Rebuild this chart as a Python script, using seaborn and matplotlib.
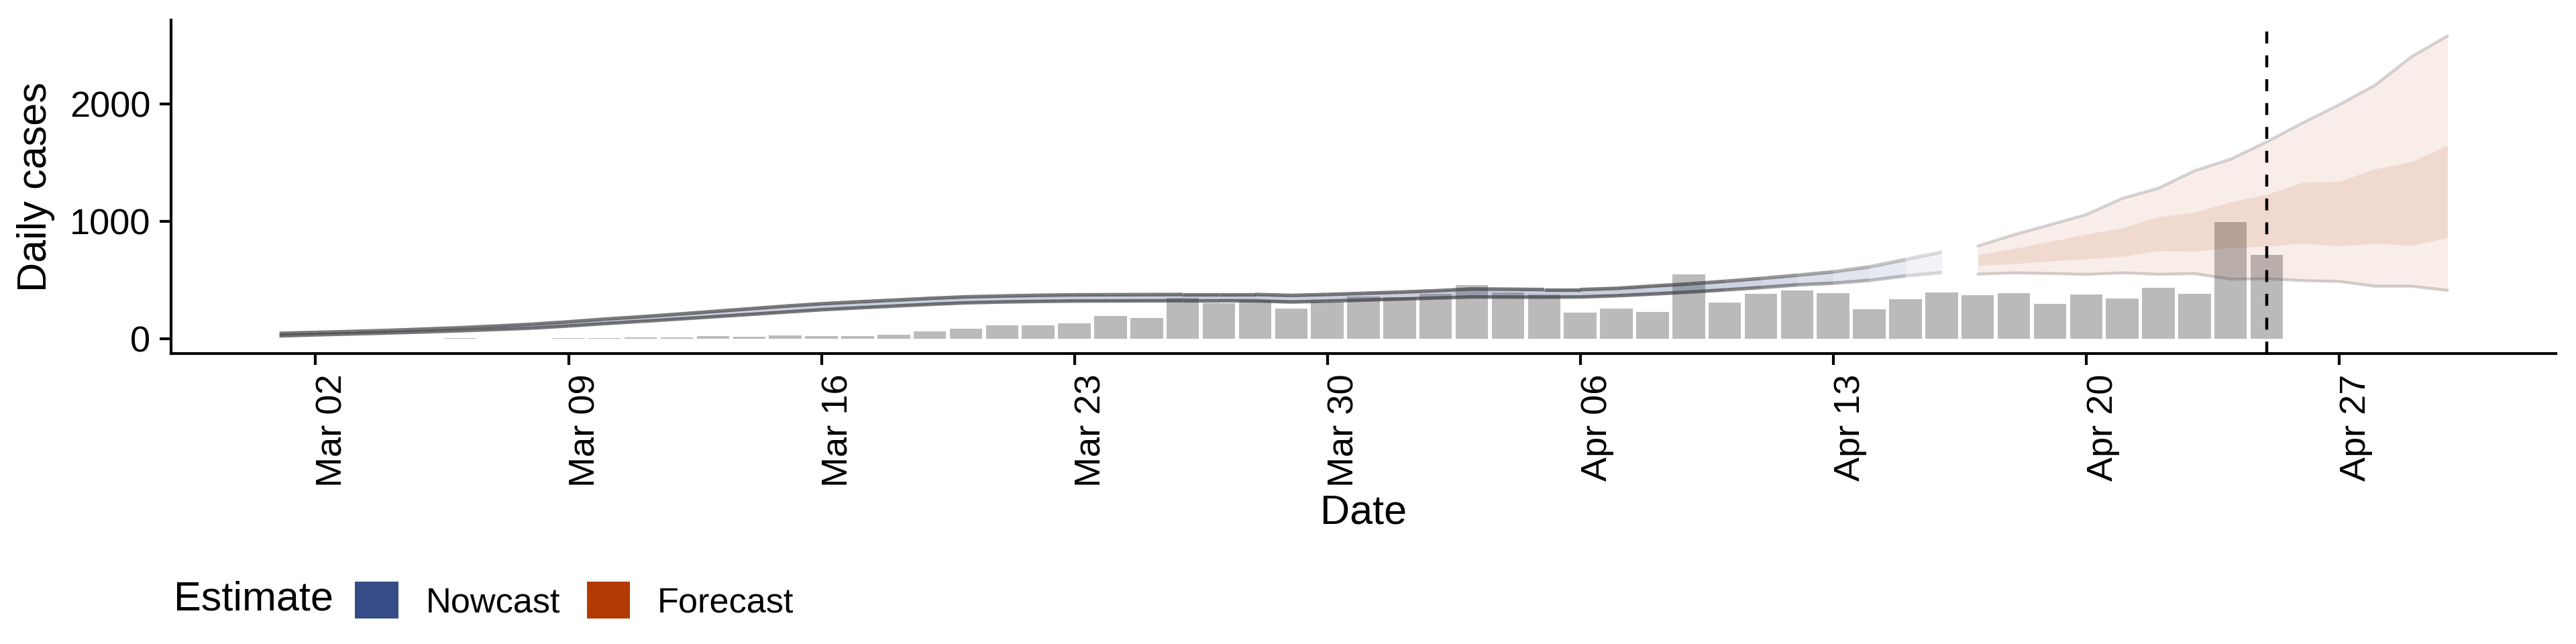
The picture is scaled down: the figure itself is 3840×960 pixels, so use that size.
import pandas as pd
import matplotlib
matplotlib.use("Agg")
import matplotlib.pyplot as plt
import matplotlib.dates as mdates
from matplotlib.patches import Patch
from matplotlib.collections import LineCollection
import seaborn as sns

# ---- data ----
case_dates = pd.date_range("2020-03-01", "2020-04-25")
cases = [0, 0, 0, 0, 0, 3, 0, 0, 3, 3, 11, 11, 23, 17, 30, 21, 21, 32, 61, 84,
         112, 112, 130, 192, 175, 347, 301, 324, 255, 312, 360,
         352, 383, 455, 394, 375, 223, 255, 229, 547, 309, 383, 413, 387, 250,
         335, 392, 370, 387, 295, 375, 341, 432, 381, 992, 712]

nowcast_dates = pd.date_range("2020-03-01", "2020-04-16")
nowcast_upper = [46, 54, 62, 71, 82, 94, 108, 124, 144, 167, 187, 209, 232, 255,
                 278, 298, 314, 329, 344, 357, 364, 370, 374, 375, 376, 377, 377,
                 377, 369, 377, 387, 397, 409, 424, 422, 419, 419, 429, 449, 467,
                 489, 514, 541, 570, 612, 675, 738]
nowcast_lower = [24, 33, 41, 49, 58, 68, 79, 91, 109, 129, 148, 167, 187, 207,
                 227, 247, 263, 278, 293, 306, 313, 318, 321, 322, 323, 324, 324,
                 323, 313, 321, 329, 338, 347, 356, 355, 354, 356, 366, 381, 397,
                 416, 436, 459, 473, 497, 535, 563]
# opacity of each day-to-day segment (nowcast fades out towards the end)
nowcast_fade = [1.0] * 39 + [0.95, 0.87, 0.77, 0.65, 0.52, 0.42, 0.25]

forecast_dates = pd.date_range("2020-04-17", "2020-04-30")
forecast_top = [790, 886, 971, 1057, 1196, 1282, 1431, 1530, 1678, 1840, 1993,
                2161, 2402, 2580]
forecast_upper = [716, 768, 829, 890, 945, 1038, 1076, 1166, 1229, 1332, 1341,
                  1447, 1508, 1648]
forecast_lower = [624, 639, 662, 680, 700, 750, 745, 774, 788, 815, 790, 814,
                  794, 859]
forecast_bottom = [550, 561, 555, 548, 561, 549, 555, 507, 511, 495, 488, 447,
                   447, 412]

data_cutoff = pd.Timestamp("2020-04-25")
estimate_labels = ["Nowcast", "Forecast"]
estimate_colors = ["#354c87", "#b33b03"]

# ---- styling ----
sns.set_theme(style="ticks")
plt.rcParams["font.family"] = ["Liberation Sans", "DejaVu Sans"]
plt.rcParams["axes.linewidth"] = 1.5
plt.rcParams["text.color"] = "black"

fig, ax = plt.subplots(figsize=(19.2, 4.8), dpi=200)
fig.subplots_adjust(left=255 / 3840, right=3810 / 3840,
                    top=1 - 30 / 960, bottom=1 - 527 / 960)

# observed cases
ax.bar(case_dates, cases, width=0.9, color="#bababa", linewidth=0, zorder=1)

# nowcast: one segment per day so it can fade out
now_col = estimate_colors[0]
xs = mdates.date2num(nowcast_dates)
for i, a in enumerate(nowcast_fade):
    ax.fill_between(nowcast_dates[i:i + 2], nowcast_lower[i:i + 2],
                    nowcast_upper[i:i + 2], color=now_col, alpha=0.27 * a,
                    linewidth=0, zorder=2)
for series in (nowcast_upper, nowcast_lower):
    segs = [[(xs[i], series[i]), (xs[i + 1], series[i + 1])]
            for i in range(len(nowcast_fade))]
    cols = [(0.25, 0.25, 0.25, 0.7 * a) for a in nowcast_fade]
    ax.add_collection(LineCollection(segs, colors=cols, linewidths=1.9,
                                     capstyle="butt", zorder=3))

# forecast bands
fc_col = estimate_colors[1]
ax.fill_between(forecast_dates, forecast_bottom, forecast_top, color=fc_col,
                alpha=0.09, linewidth=0, zorder=2)
ax.fill_between(forecast_dates, forecast_lower, forecast_upper, color=fc_col,
                alpha=0.1, linewidth=0, zorder=2)
for series in (forecast_top, forecast_bottom):
    sns.lineplot(x=forecast_dates, y=series, ax=ax, color="#404040", alpha=0.22,
                 linewidth=1.6, zorder=3)

ax.axvline(data_cutoff, color="black", linewidth=1.6, linestyle=(0, (4, 4)),
           zorder=5)

# axes
ax.set_xlim(pd.Timestamp("2020-02-27"), pd.Timestamp("2020-05-03"))
ax.set_ylim(-126, 2714)
ax.set_yticks([0, 1000, 2000])
ax.xaxis.set_major_locator(mdates.WeekdayLocator(byweekday=mdates.MO))
ax.xaxis.set_major_formatter(mdates.DateFormatter("%b %d"))
ax.tick_params(axis="both", length=6, width=1.5, color="black",
               labelsize=19.5, labelcolor="black", pad=5)
for lab in ax.get_xticklabels():
    lab.set_rotation(90)
    lab.set_ha("left")
sns.despine(ax=ax)
for s in ("left", "bottom"):
    ax.spines[s].set_color("black")

ax.set_xlabel("Date", fontsize=22, color="black")
ax.set_ylabel("Daily cases", fontsize=22, color="black")
ax.xaxis.set_label_coords(0.5, (960 - 765 - 433) / 497)
ax.xaxis.label.set_va("center")
ax.yaxis.set_label_coords((54 - 255) / 3555, 0.5)
ax.yaxis.label.set_va("center")

# legend
fig.text(259 / 3840, 1 - 894 / 960, "Estimate", fontsize=22, va="center",
         ha="left", color="black")
handles = [Patch(facecolor=c, edgecolor="none") for c in estimate_colors]
fig.legend(handles, estimate_labels, loc="center left",
           bbox_to_anchor=(529 / 3840, 1 - 895 / 960), ncol=2, frameon=False,
           fontsize=18.8, handlelength=1.24, handleheight=1.26,
           handletextpad=0.78, columnspacing=0.76, borderpad=0,
           borderaxespad=0, labelcolor="black")

fig.savefig("out.png", dpi=200, facecolor="white")
